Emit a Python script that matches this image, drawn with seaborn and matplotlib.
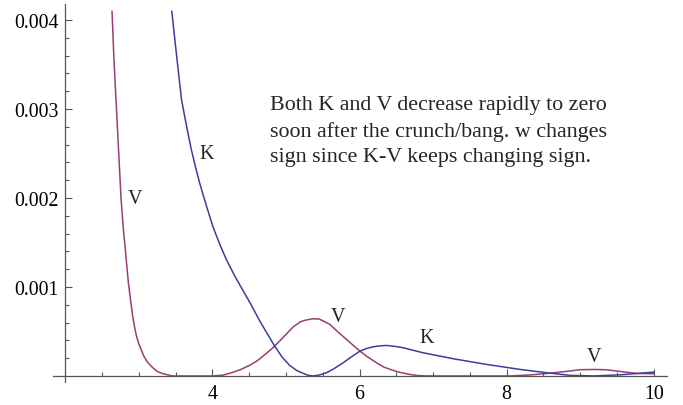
import numpy as np
import pandas as pd
import matplotlib
matplotlib.use("Agg")
import matplotlib.pyplot as plt
from matplotlib.ticker import FixedLocator, FixedFormatter
import seaborn as sns

# values
v_x = [2.636, 2.66, 2.691, 2.736, 2.759, 2.79, 2.817, 2.858, 2.89, 2.917,
       2.945, 2.971, 3.0, 3.031, 3.07, 3.121, 3.18, 3.253, 3.31, 3.371, 3.458,
       3.75, 4.007, 4.15, 4.26, 4.38, 4.507, 4.6, 4.67, 4.75, 4.847, 4.97,
       5.097, 5.2, 5.28, 5.369, 5.45, 5.5, 5.597, 5.7, 5.824, 5.92, 6.005,
       6.1, 6.232, 6.33, 6.458, 6.55, 6.685, 6.78, 6.914, 7.5, 8.049, 8.3,
       8.549, 8.8, 9.0, 9.184, 9.35, 9.55, 9.775, 9.997]
v_y = [0.0041, 0.0036, 0.00309, 0.00236, 0.00199, 0.00165, 0.00142, 0.00105,
       0.00084, 0.00067, 0.00054, 0.00044, 0.00036, 0.000298, 0.00022,
       0.000152, 0.0001, 0.00005, 0.00003, 0.000017, 0.0, 0.0, 0.0, 0.00001,
       0.000036, 0.00007, 0.00012, 0.000165, 0.00021, 0.000265, 0.000335,
       0.00044, 0.00055, 0.00061, 0.00063, 0.000643, 0.00064, 0.00062,
       0.000579, 0.0005, 0.00041, 0.00034, 0.000279, 0.00022, 0.000148,
       0.0001, 0.000062, 0.00004, 0.000017, 0.000005, 0.0, 0.0, 0.0, 0.00001,
       0.000028, 0.00005, 0.00007, 0.000073, 0.00007, 0.00005, 0.000028,
       0.000025]

k_x = [3.448, 3.49, 3.53, 3.58, 3.625, 3.668, 3.715, 3.767, 3.83, 3.894, 3.95,
       4.007, 4.1, 4.189, 4.3, 4.416, 4.507, 4.643, 4.75, 4.847, 4.95, 5.052,
       5.15, 5.233, 5.3, 5.369, 5.45, 5.552, 5.65, 5.777, 5.9, 6.005, 6.1,
       6.187, 6.28, 6.369, 6.5, 6.595, 6.72, 6.868, 7.277, 7.732, 8.185,
       8.549, 8.866, 9.184, 9.548, 10.0]
k_y = [0.0041, 0.00378, 0.00348, 0.00311, 0.00291, 0.00273, 0.00254, 0.00236,
       0.00216, 0.00198, 0.00183, 0.00168, 0.00148, 0.00131, 0.00113,
       0.00096, 0.00083, 0.00062, 0.00047, 0.000335, 0.00021, 0.000118,
       0.00006, 0.00003, 0.000008, 0.0, 0.00001, 0.000036, 0.00008, 0.000148,
       0.00022, 0.000279, 0.00031, 0.000328, 0.000338, 0.000343, 0.00033,
       0.000317, 0.00029, 0.00026, 0.000193, 0.000129, 0.000073, 0.000036,
       0.000006, 0.0, 0.000013, 0.000043]

curve_labels = [("V", 2.954, 0.00199), ("K", 3.921, 0.0025), ("V", 5.71, 0.000669),
                ("K", 6.914, 0.000429), ("V", 9.184, 0.000213)]
note_lines = ["Both K and V decrease rapidly to zero",
              "soon after the crunch/bang. w changes",
              "sign since K-V keeps changing sign."]
x_major = [4, 6, 8, 10]
y_major = [0.001, 0.002, 0.003, 0.004]

df = pd.concat([
    pd.DataFrame({"t": v_x, "val": v_y, "curve": "V"}),
    pd.DataFrame({"t": k_x, "val": k_y, "curve": "K"}),
])

sns.set_style("white")
plt.rcParams["font.family"] = ["Liberation Serif", "DejaVu Serif"]

fig = plt.figure(figsize=(6.83, 4.06), dpi=100)
ax = fig.add_axes([0.0772, 0.0562, 0.8994, 0.9315])

sns.lineplot(data=df, x="t", y="val", hue="curve", sort=False, estimator=None,
             palette={"V": "#993D74", "K": "#3F3D99"}, linewidth=1.1,
             legend=False, ax=ax)

ax.set_xlim(1.83, 10.18)
ax.set_ylim(-0.00007, 0.00418)
ax.set_xlabel("")
ax.set_ylabel("")

# mathematica-like axes crossing at (2, 0)
for side in ["top", "right"]:
    ax.spines[side].set_visible(False)
ax.spines["left"].set_position(("data", 2))
ax.spines["bottom"].set_position(("data", 0))
for side in ["left", "bottom"]:
    ax.spines[side].set_color("#555555")
    ax.spines[side].set_linewidth(0.9)

ax.xaxis.set_major_locator(FixedLocator(x_major))
ax.xaxis.set_major_formatter(FixedFormatter([str(v) for v in x_major]))
ax.xaxis.set_minor_locator(FixedLocator([v for v in np.arange(2.5, 10.01, 0.5) if v not in x_major]))
ax.yaxis.set_major_locator(FixedLocator(y_major))
ax.yaxis.set_major_formatter(FixedFormatter([f"{v:.3f}" for v in y_major]))
ax.yaxis.set_minor_locator(FixedLocator([v for v in np.arange(0.0002, 0.00401, 0.0002)
                                         if min(abs(v - m) for m in y_major) > 1e-7]))
ax.tick_params(which="both", direction="in", color="#555555", width=0.8,
               labelsize=14.3, labelcolor="black", bottom=True, left=True)
ax.tick_params(which="major", length=5)
ax.tick_params(which="minor", length=3)
ax.tick_params(axis="x", pad=6)
ax.tick_params(axis="y", pad=5)

for name, lx, ly in curve_labels:
    ax.text(lx, ly, name, fontsize=14.5, ha="center", va="center")

ax.text(4.78, 0.00276, "\n".join(note_lines), fontsize=15.8, ha="left",
        va="center", linespacing=1.45)

fig.savefig("out.png", dpi=100)
